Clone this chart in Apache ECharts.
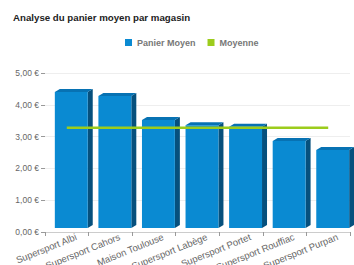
<!DOCTYPE html>
<html>
<head>
<meta charset="utf-8">
<script src="https://cdn.jsdelivr.net/npm/echarts@6/dist/echarts.min.js"></script>
<style>
  html, body { margin: 0; padding: 0; background: #fff; }
  #chart { width: 354px; height: 265px; }
</style>
</head>
<body>
<div id="chart"></div>
<script>
var categories = ['Supersport Albi', 'Supersport Cahors', 'Maison Toulouse', 'Supersport Labège', 'Supersport Portet', 'Supersport Rouffiac', 'Supersport Purpan'];
var panierMoyen = [4.40, 4.28, 3.52, 3.36, 3.31, 2.86, 2.58];
var moyenne = [3.28, 3.28, 3.28, 3.28, 3.28, 3.28, 3.28];
var yTicks = [0, 1, 2, 3, 4, 5];

var blue = '#0a8ad2';
var blueSide = '#06507d';
var blueTop = '#0772b3';
var green = '#9ccc1c';

function euro(v) {
  return v.toFixed(2).replace('.', ',') + ' €';
}

// fake 3d bar: front face + right side + top face, pushed right a bit like the perspective view
function renderBar(params, api) {
  var top = api.coord([api.value(0), api.value(1)]);
  var base = api.coord([api.value(0), 0]);
  var band = api.size([1, 0])[0];
  var depth = 5, lift = 3, shift = 7;
  var w = band * 0.87 - depth;
  var x0 = top[0] - (w + depth) / 2 + shift;
  var x1 = x0 + w;
  var y0 = top[1], y1 = base[1] - 4;
  return {
    type: 'group',
    children: [
      { type: 'polygon', shape: { points: [[x1, y0], [x1 + depth, y0 - lift], [x1 + depth, y1 - lift], [x1, y1]] }, style: { fill: blueSide } },
      { type: 'polygon', shape: { points: [[x0, y0], [x0 + depth, y0 - lift], [x1 + depth, y0 - lift], [x1, y0]] }, style: { fill: blueTop } },
      { type: 'rect', shape: { x: x0, y: y0, width: w, height: y1 - y0 }, style: { fill: blue } }
    ]
  };
}

var chart = echarts.init(document.getElementById('chart'), null, { renderer: 'svg' });
chart.setOption({
  animation: false,
  textStyle: { fontFamily: 'Liberation Sans' },
  title: {
    text: 'Analyse du panier moyen par magasin',
    left: 8, top: 7,
    textStyle: { fontSize: 9.7, fontWeight: 'bold', color: '#222' }
  },
  legend: {
    left: 120, top: 33,
    itemWidth: 7, itemHeight: 7, itemGap: 12,
    icon: 'rect',
    textStyle: { fontSize: 9, color: '#777', fontWeight: 'bold' },
    data: [
      { name: 'Panier Moyen', itemStyle: { color: blue } },
      { name: 'Moyenne', itemStyle: { color: green } }
    ]
  },
  grid: { left: 45, right: 4, top: 73, bottom: 33, outerBoundsMode: 'none' },
  xAxis: {
    type: 'category',
    data: categories,
    axisLine: { lineStyle: { color: '#ccc' } },
    axisTick: { show: true, lineStyle: { color: '#999' }, length: 4 },
    axisLabel: { rotate: 22, interval: 0, fontSize: 9.5, color: '#666', margin: 8, padding: [0, -10, 0, 0] }
  },
  yAxis: {
    type: 'value',
    min: yTicks[0], max: yTicks[yTicks.length - 1], interval: 1,
    axisLine: { show: false },
    axisTick: { show: true, length: 4, lineStyle: { color: '#999' } },
    axisLabel: { formatter: euro, fontSize: 8.5, color: '#666', margin: 6 },
    splitLine: { lineStyle: { color: '#eee' } }
  },
  series: [
    {
      name: 'Panier Moyen',
      type: 'custom',
      renderItem: renderBar,
      itemStyle: { color: blue },
      encode: { x: 0, y: 1 },
      data: panierMoyen.map(function (v, i) { return [i, v]; }),
      z: 2
    },
    {
      name: 'Moyenne',
      type: 'line',
      data: moyenne,
      symbol: 'none',
      lineStyle: { color: green, width: 2.5 },
      itemStyle: { color: green },
      z: 5
    }
  ]
});
</script>
</body>
</html>
